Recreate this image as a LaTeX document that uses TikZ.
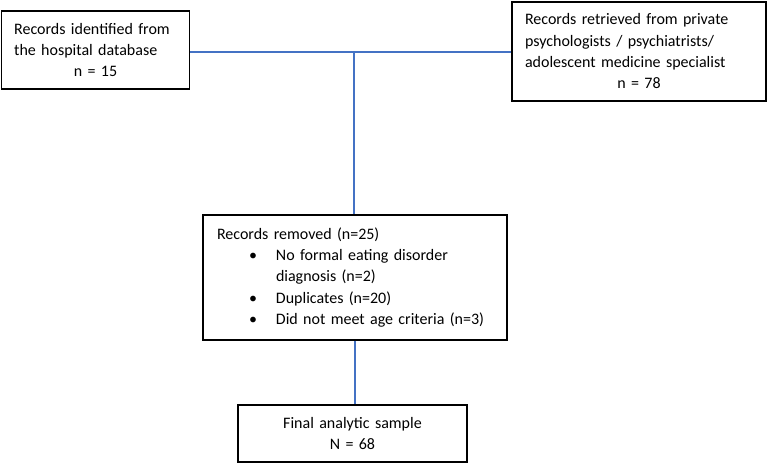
\documentclass[tikz,border=0pt]{standalone}
\usepackage{fontspec}
\setmainfont{Carlito}
\definecolor{flowblue}{RGB}{68,114,196}
\newcommand{\rmitem}[1]{\par\hangindent=44.25pt\hangafter=1\noindent\hspace*{24pt}\makebox[20.25pt][l]{\textbullet}#1}
\newcommand{\midline}[1]{\makebox[\hsize]{#1}}
\tikzset{
    recbox/.style={draw, line width=0.8pt, inner xsep=9.75pt, inner ysep=0pt,
        align=left, font=\fontsize{12}{16}\selectfont},
    flow/.style={draw=flowblue, line width=1.5pt}
}

\begin{document}
\begin{tikzpicture}[x=0.75pt, y=-0.75pt]
        \useasboundingbox (0, 0) rectangle (767, 463);
        \node[recbox, text width=122pt, minimum height=58.5pt] (hosp) at (95.5, 50)
            {Records identified from\\the hospital database\\\midline{n = 15}};
        \node[recbox, text width=171pt, minimum height=74.25pt] (priv) at (639, 51.5)
            {Records retrieved from private\\psychologists / psychiatrists/\\adolescent medicine specialist\\\midline{n = 78}};
        \node[recbox, text width=207pt, minimum height=93.75pt, inner xsep=10.5pt] (removed) at (355, 277.5)
            {Records removed (n=25)
             \rmitem{No formal eating disorder\hfil\break diagnosis (n=2)}
             \rmitem{Duplicates (n=20)}
             \rmitem{Did not meet age criteria (n=3)}};
        \node[recbox, text width=152.25pt, minimum height=42.75pt, align=center] (final) at (352.5, 433.5)
            {Final analytic sample\\N = 68};
        \coordinate (join) at (354, 52);
        \draw[flow] (join -| hosp.east) -- (join -| priv.west);
        \draw[flow] (join) -- (join |- removed.north);
        \draw[flow] (removed.south) -- (removed.south |- final.north);
    \end{tikzpicture}
\end{document}
